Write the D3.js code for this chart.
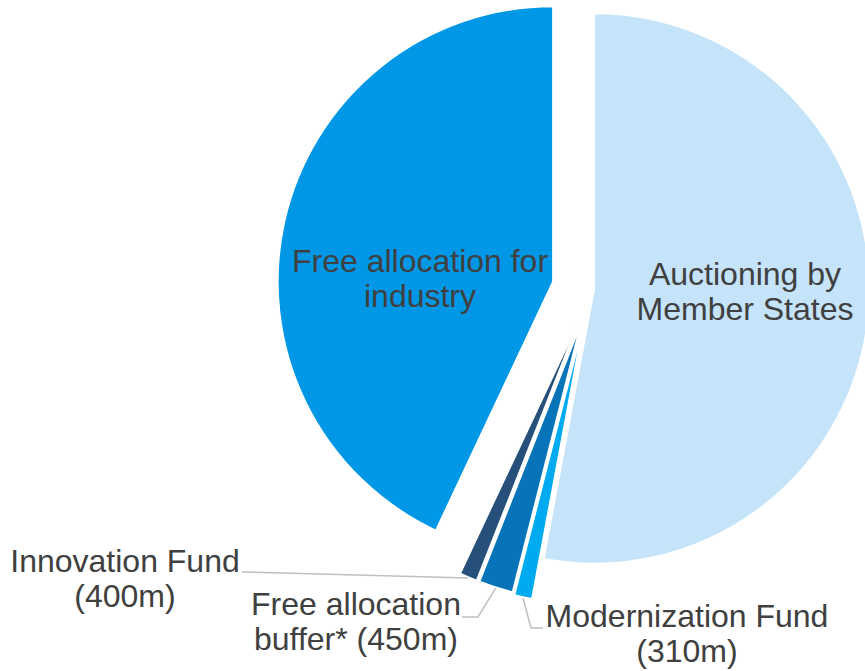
<!DOCTYPE html>
<html lang="en">
  <head>
    <meta charset="UTF-8" />
    <title>Allowance split pie</title>
    <script src="https://cdnjs.cloudflare.com/ajax/libs/d3/7.9.0/d3.min.js"></script>
    <style>
      html,
      body {
        margin: 0;
        padding: 0;
        background: #ffffff;
      }
      svg {
        display: block;
        font-family: "Liberation Sans", Arial, sans-serif;
      }
      path.slice {
        stroke: #ffffff;
        stroke-width: 1.5px;
        stroke-linejoin: miter;
      }
      path.leader {
        fill: none;
        stroke: #bfbfbf;
        stroke-width: 1.5px;
      }
      text {
        fill: #404040;
      }
    </style>
  </head>
  <body>
    <svg id="chart" width="865" height="671"></svg>

    <script>
      /* ---------------- data (share of total, %) ---------------- */
      const categories = [
        "Auctioning by Member States",
        "Modernization Fund",
        "Free allocation buffer*",
        "Innovation Fund",
        "Free allocation for industry",
      ];
      const shares = [52.94, 1.03, 2.0, 1.03, 43.0];
      const colors = ["#c5e3f9", "#00aaf0", "#0774b9", "#26507a", "#0097e6"];

      /* ---------------- layout ---------------- */
      const cx = 574.4,
        cy = 286.5,
        R = 275;
      // how far each slice is pulled out of the pie (px)
      const explode = [
        [20, 2],
        [8, 42],
        [6, 39],
        [3, 38],
        [-21.5, -5],
      ];

      const svg = d3.select("#chart");
      const g = svg.append("g").attr("transform", `translate(${cx},${cy})`);

      const pie = d3
        .pie()
        .sort(null)
        .value((d) => d)
        .startAngle(0)
        .endAngle(2 * Math.PI);
      const arcs = pie(shares);
      const arc = d3.arc().innerRadius(0).outerRadius(R);

      g.selectAll("path.slice")
        .data(arcs)
        .join("path")
        .attr("class", "slice")
        .attr("transform", (d, i) => `translate(${explode[i][0]},${explode[i][1]})`)
        .attr("fill", (d, i) => colors[i])
        .attr("d", arc);

      // point on a slice's outer rim at its mid angle (absolute coords)
      function rimPoint(i, extra = 0) {
        const a = (arcs[i].startAngle + arcs[i].endAngle) / 2;
        return [
          cx + explode[i][0] + (R + extra) * Math.sin(a),
          cy + explode[i][1] - (R + extra) * Math.cos(a),
        ];
      }

      /* ---------------- inside labels ---------------- */
      const inside = [
        { i: 0, lines: ["Auctioning by", "Member States"], x: 745, y: 285 },
        { i: 4, lines: ["Free allocation for", "industry"], x: 420, y: 272 },
      ];
      inside.forEach((l) => {
        const t = svg
          .append("text")
          .attr("text-anchor", "middle")
          .attr("font-size", "32px");
        l.lines.forEach((s, k) =>
          t
            .append("tspan")
            .attr("x", l.x)
            .attr("y", l.y + k * 35)
            .text(s)
        );
      });

      /* ---------------- outside labels with leader lines ---------------- */
      const outside = [
        {
          i: 3,
          lines: ["Innovation Fund", "(400m)"],
          x: 125,
          y: 572,
          path: (p) => [[242, 572], p],
        },
        {
          i: 2,
          lines: ["Free allocation", "buffer* (450m)"],
          x: 356,
          y: 615,
          path: (p) => [[462, 617], [478, 617], p],
        },
        {
          i: 1,
          lines: ["Modernization Fund", "(310m)"],
          x: 687,
          y: 627,
          path: (p) => [p, [531, 628], [543, 628]],
        },
      ];
      const line = d3.line();
      outside.forEach((l) => {
        svg
          .append("path")
          .attr("class", "leader")
          .attr("d", line(l.path(rimPoint(l.i, 1))));
        const t = svg
          .append("text")
          .attr("text-anchor", "middle")
          .attr("font-size", "32px");
        l.lines.forEach((s, k) =>
          t
            .append("tspan")
            .attr("x", l.x)
            .attr("y", l.y + k * 35)
            .text(s)
        );
      });
    </script>
  </body>
</html>
